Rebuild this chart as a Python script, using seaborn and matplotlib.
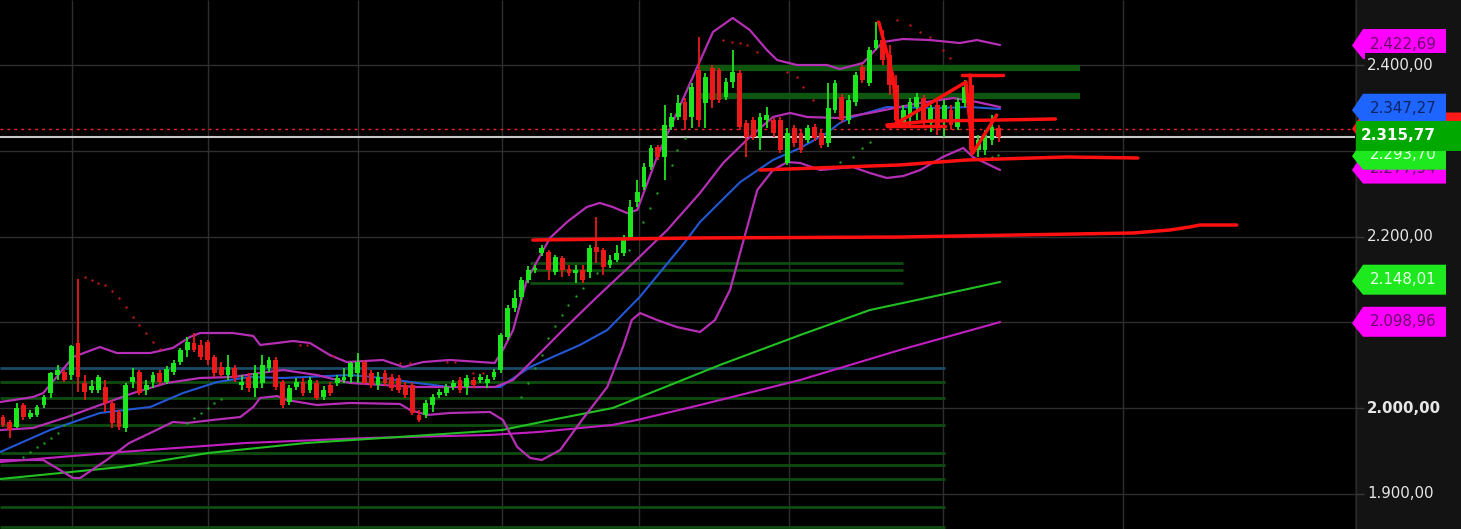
import numpy as np
import pandas as pd
import seaborn as sns
import matplotlib.pyplot as plt
from matplotlib.patches import Polygon, Rectangle

# candles (index 0..146), prices
opens = [
    1989.7, 1983.9, 1978.1, 2003.7, 1989.7, 1992.1, 2003.7, 2017.7, 2038.7, 2042.2,
    2038.7, 2076.0, 2029.4, 2021.2, 2021.2, 2024.7, 2006.1, 1995.6, 1976.9, 2030.5,
    2042.2, 2021.2, 2030.5, 2041.0, 2030.5, 2042.2, 2053.8, 2067.8, 2076.0, 2073.7,
    2077.2, 2059.7, 2048.0, 2038.7, 2046.9, 2027.0, 2036.4, 2023.5, 2029.4, 2046.9,
    2056.2, 2030.5, 2007.2, 2024.7, 2030.5, 2021.2, 2029.4, 2013.0, 2027.0, 2029.4,
    2032.9, 2036.4, 2041.0, 2053.8, 2041.0, 2027.0, 2041.0, 2036.4, 2035.2, 2027.0,
    2027.0, 1992.1, 1992.1, 2003.7, 2015.3, 2017.7, 2024.7, 2032.9, 2024.7, 2032.9,
    2032.9, 2029.4, 2036.4, 2044.5, 2083.0, 2116.8, 2129.6, 2149.4, 2161.1, 2180.9,
    2182.1, 2158.7, 2175.1, 2162.2, 2157.6, 2161.1, 2158.7, 2187.9, 2184.4, 2166.9,
    2172.7, 2180.9, 2199.5, 2240.3, 2257.8, 2281.1, 2304.4, 2292.8, 2327.7, 2339.4,
    2356.9, 2339.4, 2394.2, 2355.7, 2396.5, 2394.2, 2362.7, 2380.2, 2390.7, 2332.4,
    2335.9, 2316.1, 2335.9, 2335.9, 2335.9, 2285.8, 2326.6, 2320.7, 2312.6, 2327.7,
    2320.7, 2309.1, 2347.5, 2362.7, 2335.9, 2356.9, 2397.7, 2379.0, 2419.8, 2429.1,
    2411.7, 2376.7, 2332.4, 2339.4, 2351.0, 2361.5, 2332.4, 2353.4, 2333.6, 2347.5,
    2327.7, 2355.7, 2376.7, 2300.9, 2300.9, 2312.6, 2326.6]
closes = [
    1980.4, 1974.6, 2000.2, 1989.7, 1994.4, 2001.4, 2013.0, 2041.0, 2044.5, 2032.9,
    2072.5, 2036.4, 2018.9, 2025.9, 2036.4, 2006.1, 1982.8, 1978.1, 2027.0, 2036.4,
    2017.7, 2027.0, 2038.7, 2030.5, 2045.7, 2052.7, 2067.8, 2077.2, 2067.8, 2059.7,
    2056.2, 2041.0, 2038.7, 2048.0, 2035.2, 2030.5, 2023.5, 2041.0, 2050.3, 2056.2,
    2024.7, 2003.7, 2023.5, 2030.5, 2017.7, 2032.9, 2011.9, 2021.2, 2017.7, 2035.2,
    2036.4, 2052.7, 2053.8, 2029.4, 2027.0, 2036.4, 2029.4, 2023.5, 2021.2, 2015.3,
    1994.4, 1986.3, 2006.1, 2013.0, 2018.9, 2024.7, 2029.4, 2021.2, 2035.2, 2027.0,
    2036.4, 2034.0, 2042.2, 2085.3, 2116.8, 2128.4, 2149.4, 2161.1, 2163.4, 2186.7,
    2161.1, 2176.2, 2161.1, 2157.6, 2161.1, 2149.4, 2186.7, 2182.1, 2164.6, 2172.7,
    2180.9, 2196.0, 2234.5, 2251.9, 2281.1, 2303.3, 2292.8, 2330.1, 2339.4, 2355.7,
    2335.9, 2374.4, 2335.9, 2386.0, 2359.2, 2359.2, 2380.2, 2391.8, 2327.7, 2316.1,
    2316.1, 2339.4, 2341.7, 2320.7, 2300.9, 2320.7, 2309.1, 2300.9, 2326.6, 2314.9,
    2306.8, 2349.9, 2379.0, 2335.9, 2359.2, 2388.3, 2382.5, 2417.5, 2429.1, 2405.8,
    2376.7, 2335.9, 2347.5, 2356.9, 2362.7, 2335.9, 2349.9, 2330.1, 2353.4, 2330.1,
    2356.9, 2374.4, 2300.9, 2312.6, 2318.4, 2327.7, 2315.8]
highs = [
    1992.1, 1986.3, 2006.1, 2006.1, 1997.9, 2003.7, 2015.3, 2042.2, 2050.3, 2044.5,
    2073.7, 2150.6, 2038.7, 2032.9, 2038.7, 2032.9, 2009.6, 1997.9, 2029.4, 2046.9,
    2044.5, 2032.9, 2042.2, 2044.5, 2049.2, 2056.2, 2070.2, 2083.0, 2087.6, 2079.5,
    2079.5, 2062.0, 2053.8, 2062.0, 2050.3, 2038.7, 2041.0, 2050.3, 2062.0, 2059.7,
    2059.7, 2032.9, 2027.0, 2035.2, 2035.2, 2036.4, 2032.9, 2025.9, 2030.5, 2038.7,
    2046.9, 2053.8, 2064.3, 2056.2, 2044.5, 2042.2, 2044.5, 2039.9, 2038.7, 2030.5,
    2030.5, 1997.9, 2009.6, 2016.5, 2022.4, 2028.2, 2032.9, 2036.4, 2038.7, 2036.4,
    2039.9, 2038.7, 2045.7, 2087.6, 2120.3, 2137.8, 2152.9, 2165.7, 2166.9, 2190.2,
    2184.4, 2178.6, 2177.4, 2166.9, 2166.9, 2166.9, 2190.2, 2222.8, 2186.7, 2178.6,
    2190.2, 2201.9, 2242.7, 2265.9, 2285.8, 2306.8, 2306.8, 2353.4, 2344.1, 2365.0,
    2361.5, 2379.0, 2432.6, 2390.7, 2400.0, 2396.5, 2384.8, 2417.5, 2394.2, 2335.9,
    2339.4, 2344.1, 2351.0, 2338.2, 2339.4, 2326.6, 2330.1, 2324.2, 2330.1, 2331.2,
    2324.2, 2379.0, 2382.5, 2366.2, 2365.0, 2391.8, 2401.2, 2421.0, 2450.1, 2440.8,
    2423.3, 2388.3, 2353.4, 2361.5, 2367.4, 2365.0, 2353.4, 2359.2, 2359.2, 2353.4,
    2361.5, 2382.5, 2382.5, 2318.4, 2324.2, 2341.7, 2330.1]
lows = [
    1978.1, 1965.3, 1976.9, 1986.3, 1987.4, 1989.7, 2000.2, 2011.9, 2032.9, 2030.5,
    2032.9, 2018.9, 2009.6, 2017.7, 2017.7, 1995.6, 1976.9, 1974.6, 1972.3, 2023.5,
    2015.3, 2015.3, 2023.5, 2027.0, 2028.2, 2038.7, 2050.3, 2059.7, 2065.5, 2056.2,
    2050.3, 2036.4, 2036.4, 2032.9, 2030.5, 2021.2, 2018.9, 2013.0, 2023.5, 2042.2,
    2021.2, 2000.2, 2003.7, 2021.2, 2014.2, 2017.7, 2009.6, 2009.6, 2014.2, 2025.9,
    2029.4, 2029.4, 2029.4, 2027.0, 2023.5, 2021.2, 2025.9, 2020.0, 2017.7, 2011.9,
    1992.1, 1983.9, 1988.6, 1995.6, 2011.9, 2014.2, 2021.2, 2017.7, 2015.3, 2023.5,
    2029.4, 2023.5, 2032.9, 2041.0, 2079.5, 2112.1, 2126.1, 2145.9, 2157.6, 2177.4,
    2149.4, 2155.3, 2152.9, 2154.1, 2145.9, 2145.9, 2151.8, 2169.2, 2155.3, 2163.4,
    2170.4, 2177.4, 2196.0, 2234.5, 2254.3, 2277.6, 2289.3, 2265.9, 2324.2, 2335.9,
    2324.2, 2326.6, 2327.7, 2326.6, 2349.9, 2355.7, 2359.2, 2373.2, 2324.2, 2292.8,
    2312.6, 2300.9, 2326.6, 2316.1, 2297.4, 2283.5, 2304.4, 2297.4, 2309.1, 2311.4,
    2303.3, 2304.4, 2344.1, 2332.4, 2331.2, 2352.2, 2379.0, 2375.5, 2417.5, 2400.0,
    2365.0, 2327.7, 2327.7, 2330.1, 2335.9, 2327.7, 2321.9, 2318.4, 2316.1, 2324.2,
    2324.2, 2351.0, 2295.1, 2292.8, 2295.1, 2306.8, 2310.3]

# bollinger bands and moving averages (vertices: bar index, price)
bb_up_x = [-0.4, 4.4, 5.9, 10.3, 14.2, 16.7, 21.6, 24.9, 27.4, 28.9, 33.7, 36.7, 37.7, 40.2, 42.5,
           45.0, 47.9, 50.4, 55.7, 58.7, 61.6, 65.5, 72.1, 73.3, 74.8, 76.8, 80.2, 82.7, 85.6, 87.5,
           89.4, 91.5, 93.0, 95.9, 98.8, 101.8, 104.1, 107.0, 109.5, 112.0, 113.5, 116.4, 120.8,
           122.7, 126.1, 129.0, 132.0, 135.9, 140.3, 142.8, 146.2]
bb_up_y = [2007.2, 2013.0, 2017.7, 2059.7, 2071.3, 2064.3, 2064.3, 2070.2, 2083.0, 2087.6, 2087.6,
           2084.2, 2073.7, 2076.0, 2078.3, 2076.0, 2062.0, 2053.8, 2056.2, 2048.0, 2053.8, 2056.2,
           2052.7, 2067.8, 2091.1, 2149.4, 2198.4, 2217.0, 2234.5, 2239.2, 2234.5, 2227.5, 2231.0,
           2292.8, 2344.1, 2397.7, 2438.5, 2454.8, 2440.8, 2417.5, 2405.8, 2400.0, 2400.0, 2395.3,
           2402.3, 2426.8, 2430.3, 2429.1, 2425.6, 2429.1, 2423.3]
bb_mid_x = [-0.4, 4.4, 9.4, 14.2, 19.1, 24.0, 28.9, 33.7, 37.7, 41.1, 46.0, 49.0, 50.9, 55.7, 60.7,
            72.1, 74.8, 77.3, 82.1, 87.1, 92.4, 97.4, 102.2, 105.6, 109.5, 112.9, 115.4, 117.9,
            122.7, 127.1, 134.4, 139.3, 142.8, 146.2]
bb_mid_y = [1974.6, 1976.9, 1989.7, 2003.7, 2017.7, 2029.4, 2035.2, 2036.4, 2041.0, 2044.5, 2038.7,
            2032.9, 2029.4, 2027.0, 2024.7, 2024.7, 2032.9, 2052.7, 2091.1, 2129.6, 2169.2, 2207.7,
            2250.8, 2285.8, 2316.1, 2339.4, 2344.1, 2339.4, 2338.2, 2344.1, 2355.7, 2361.5, 2356.9,
            2351.0]
bb_lo_x = [-0.4, 5.9, 10.3, 11.3, 15.2, 18.5, 21.6, 24.9, 27.0, 30.8, 34.8, 36.7, 37.7, 40.2, 41.6,
           46.0, 50.9, 58.2, 59.7, 62.2, 65.5, 71.4, 73.3, 75.4, 77.3, 79.0, 81.7, 84.9, 88.6, 90.9,
           92.2, 93.4, 95.9, 98.8, 102.2, 104.4, 106.6, 108.8, 110.6, 112.9, 115.0, 116.9, 119.8,
           124.6, 127.1, 129.6, 132.0, 134.5, 137.8, 140.8, 142.2, 146.2]
bb_lo_y = [1939.6, 1939.6, 1918.6, 1918.6, 1939.6, 1959.4, 1971.1, 1983.9, 1982.8, 1986.3, 1989.7,
           2001.4, 2011.9, 2014.2, 2009.6, 2003.7, 2006.1, 2004.9, 1997.9, 1992.1, 1994.4, 1995.6,
           1986.3, 1954.8, 1942.0, 1939.6, 1951.3, 1986.3, 2024.7, 2071.3, 2102.8, 2110.9, 2102.8,
           2094.6, 2088.8, 2102.8, 2137.8, 2201.9, 2254.3, 2277.6, 2286.9, 2285.8, 2277.6, 2281.1,
           2274.1, 2268.3, 2270.6, 2277.6, 2292.8, 2303.3, 2292.8, 2277.6]
ema_x = [-0.4, 6.9, 14.2, 21.6, 26.4, 31.4, 36.2, 41.1, 50.9, 55.7, 60.7, 65.5, 72.9, 77.3, 80.6,
         84.6, 88.6, 93.4, 100.0, 102.2, 104.7, 108.1, 112.9, 116.9, 120.8, 122.7, 124.6, 129.6,
         137.0, 141.8, 146.2]
ema_y = [1949.0, 1974.6, 1994.4, 2001.4, 2017.7, 2030.5, 2036.4, 2035.2, 2038.7, 2035.2, 2029.4,
         2024.7, 2024.7, 2048.0, 2059.7, 2073.7, 2091.1, 2130.0, 2193.7, 2217.0, 2236.8, 2263.6,
         2289.3, 2303.3, 2320.7, 2332.4, 2339.4, 2351.0, 2349.9, 2351.0, 2348.7]
ma_g_x = [-0.4, 17.4, 30.1, 44.4, 62.5, 73.2, 80.4, 89.4, 94.9, 105.1, 116.9, 127.1, 137.4, 146.2]
ma_g_y = [1917.5, 1931.5, 1947.8, 1959.4, 1968.8, 1974.6, 1986.3, 2000.2, 2017.7, 2050.3, 2085.3,
          2114.4, 2131.9, 2147.1]
ma_m_x = [-0.4, 17.4, 35.5, 53.4, 71.4, 78.6, 89.3, 93.0, 102.2, 116.9, 131.5, 146.2]
ma_m_y = [1937.3, 1949.0, 1959.4, 1965.3, 1968.8, 1972.3, 1980.4, 1986.3, 2003.7, 2032.9, 2067.8,
          2100.4]

# hand drawn red lines
red_lines = [
    ([77.7, 102.2, 131.5, 165.7, 171.1, 174.0, 175.5, 180.9],
     [2196.0, 2198.4, 2199.5, 2204.2, 2207.7, 2211.2, 2213.5, 2213.5]),
    ([111.0, 131.5, 141.3, 156.0, 166.4], [2277.6, 2283.5, 2289.3, 2292.8, 2291.6]),
    ([130.1, 141.2, 142.2, 145.7], [2327.7, 2380.2, 2297.4, 2341.7]),
    ([140.6, 146.6], [2388.3, 2388.3]),
    ([141.8, 142.2], [2388.3, 2297.4]),
    ([129.6, 135.9, 146.2, 154.3], [2330.1, 2334.7, 2335.9, 2337.1]),
    ([129.6, 138.1], [2328.9, 2328.9]),
    ([128.4, 129.5, 130.5, 131.2], [2450.1, 2417.5, 2386.0, 2330.1]),
]

# horizontal support / resistance levels
lvl_low = [2046.9, 2030.5, 2011.9, 1980.4, 1947.8, 1933.8, 1917.5, 1884.8, 1861.5]
lvl_mid = [2169.2, 2161.1, 2145.9]
lvl_top = [2396.5, 2363.9]

# parabolic sar dots
sar_red_x = [12, 13, 14, 15, 16, 17, 18, 19, 20, 21, 22, 23, 43.5, 44.6, 48.4, 58.2, 59.7, 65.1, 66.3,
             68.9, 70.4, 105.6, 106.9, 108.1, 109.1, 110.6, 115.0, 116.4, 117.3, 118.8,
             131.1, 133.0, 134.5, 135.9, 137.8, 138.8]
sar_red_y = [2152.9, 2149.4, 2145.9, 2143.6, 2136.6, 2128.4, 2117.9, 2106.3, 2097.0, 2087.6, 2077.2,
             2069.0, 2073.7, 2073.7, 2060.8, 2052.7, 2052.7, 2053.8, 2053.8, 2041.0, 2041.0,
             2429.1, 2426.8, 2425.6, 2423.3, 2415.2, 2391.8, 2386.0, 2374.4, 2359.2,
             2452.5, 2446.6, 2438.5, 2432.6, 2417.5, 2408.2]
sar_grn_x = [3, 4, 5, 6, 7, 8, 9, 10, 27, 28, 29, 30, 31, 32, 76.0, 77.0, 78.0, 79.0, 79.9, 80.9,
             81.9, 82.8, 84.0, 85.0, 87.1, 91.8, 93.8, 94.9, 95.9, 98.1, 98.8, 100.0,
             122.7, 124.6, 126.0, 127.1, 144.0, 145.0, 145.9]
sar_grn_y = [1943.1, 1949.0, 1954.8, 1959.4, 1965.3, 1971.1, 1980.4, 1992.1, 1982.8, 1988.6, 1994.4,
             2000.2, 2006.1, 2010.7, 2013.0, 2029.4, 2046.9, 2062.0, 2081.8, 2095.8, 2108.6, 2120.3,
             2130.8, 2140.1, 2157.6, 2184.4, 2217.0, 2233.3, 2250.8, 2283.5, 2300.9, 2314.9,
             2286.9, 2292.8, 2303.3, 2310.3, 2291.6, 2292.8, 2295.1]

grid_levels = [2400, 2300, 2200, 2100, 2000, 1900]
axis_labels = ['2.400,00', '2.300,00', '2.200,00', '2.100,00', '2.000,00', '1.900,00']
grid_x = [10.1, 30.1, 52.1, 73.2, 93.3, 115.2, 137.8, 164.2]

last_price = 2315.77
ref_price = 2325.4
# tag value, text, face colour, text colour
tags = [
    (2277.54, '2.277,54', '#ff00ff', '#6a0a6a'),
    (2293.70, '2.293,70', '#1ee81e', '#e8ffe8'),
    (ref_price, '', '#ff1a1a', '#ffffff'),
    (2347.27, '2.347,27', '#1e64ff', '#0a2466'),
    (2422.69, '2.422,69', '#ff00ff', '#6a0a6a'),
    (2148.01, '2.148,01', '#1ee81e', '#e8ffe8'),
    (2098.96, '2.098,96', '#ff00ff', '#6a0a6a'),
]

GREEN = '#1ee61e'
RED = '#ea1a1a'
W, H, PANEL = 1461, 529, 1355
PPX = 1.1655          # price units per pixel
y_lo, y_hi = 1859.2, 2475.76

sns.set_style('dark')
plt.rcParams['font.family'] = ['DejaVu Sans']

fig = plt.figure(figsize=(W / 100, H / 100), dpi=100, facecolor='black')
ax = fig.add_axes([0, 0, PANEL / W, 1])
ax.set_facecolor('black')
ax.set_xlim(-0.44, 198.24)
ax.set_ylim(y_lo, y_hi)
ax.set_xticks([])
ax.set_yticks([])
for s in ax.spines.values():
    s.set_visible(False)

ax.hlines(grid_levels, -1, 200, color='#2e2e2e', lw=1, zorder=0)
ax.vlines(grid_x, y_lo, y_hi, color='#2e2e2e', lw=1, zorder=0)

# levels
for i, lv in enumerate(lvl_low):
    ax.hlines(lv, -0.44, 138.1, color='#1b4a66' if i == 0 else '#0f4d0f', lw=2, zorder=1)
ax.hlines(lvl_mid, 77.3, 132.0, color='#0f4d0f', lw=2, zorder=1)
ax.hlines(lvl_top, 102.2, 157.9, color='#0d560d', lw=4.5, zorder=1)

ax.axhline(ref_price, color='#ff2020', lw=1, ls=(0, (2, 3)), zorder=2)
ax.axhline(last_price, color='#c8c8c8', lw=1.5, zorder=2)

# indicator lines
sns.lineplot(x=ma_m_x, y=ma_m_y, ax=ax, color='#c21fc2', lw=1.5, sort=False, estimator=None, zorder=3)
sns.lineplot(x=ma_g_x, y=ma_g_y, ax=ax, color='#22c022', lw=1.5, sort=False, estimator=None, zorder=3)
sns.lineplot(x=ema_x, y=ema_y, ax=ax, color='#2457d6', lw=1.5, sort=False, estimator=None, zorder=3)
for bx, by in [(bb_up_x, bb_up_y), (bb_mid_x, bb_mid_y), (bb_lo_x, bb_lo_y)]:
    sns.lineplot(x=bx, y=by, ax=ax, color='#b52fb5', lw=1.6, sort=False, estimator=None, zorder=3)

sns.scatterplot(x=sar_red_x, y=sar_red_y, ax=ax, color='#c01818', s=3, linewidth=0, zorder=3)
sns.scatterplot(x=sar_grn_x, y=sar_grn_y, ax=ax, color='#1aa01a', s=3, linewidth=0, zorder=3)

# candles
df = pd.DataFrame({'o': opens, 'h': highs, 'l': lows, 'c': closes})
df['i'] = np.arange(len(df))
col = np.where(df['c'] >= df['o'], GREEN, RED)
ax.vlines(df['i'], df['l'], df['h'], colors=col, lw=1.3, zorder=4)
body = (df['c'] - df['o']).abs().clip(lower=1.5)
ax.bar(df['i'], body, bottom=df[['o', 'c']].min(axis=1), width=0.7, color=col, linewidth=0, zorder=5)

for rx, ry in red_lines:
    ax.plot(rx, ry, color='#ff1010', lw=2.5, solid_capstyle='round', zorder=6)

# right price panel
ax2 = fig.add_axes([PANEL / W, 0, (W - PANEL) / W, 1])
ax2.set_facecolor('#131313')
ax2.set_xlim(0, W - PANEL)
ax2.set_ylim(y_lo, y_hi)
ax2.set_xticks([])
ax2.set_yticks([])
for s in ax2.spines.values():
    s.set_visible(False)
ax2.axvline(1, color='#2c2c2c', lw=1)
ax2.hlines(grid_levels, 0, 9, color='#3a3a3a', lw=1)

for lv, lab in zip(grid_levels, axis_labels):
    if lab in ('2.300,00', '2.100,00'):
        continue
    ax2.add_patch(Rectangle((10, lv - 12 * PPX), 96, 24 * PPX, facecolor='#131313',
                            edgecolor='none', zorder=8))
    ax2.text(12, lv, lab, color='#e6e6e6', fontsize=10.8, va='center', ha='left',
             fontweight='bold' if lab == '2.000,00' else 'normal', zorder=9)

def tag(price, text, face, tc, z, half=15, x1=91):
    h = half * PPX
    p = price + 1.5 * PPX
    pts = [(-3, price), (8, p + h), (x1, p + h), (x1, p - h), (8, p - h)]
    ax2.add_patch(Polygon(pts, closed=True, facecolor=face, edgecolor='none', clip_on=False, zorder=z))
    if text:
        ax2.text(15, p, text, color=tc, fontsize=10.8, va='center', ha='left', zorder=z)

for k, (val, txt, fc, tc) in enumerate(tags):
    x1 = 106 if txt == '' else 91
    tag(val, txt, fc, tc, 2 + k, x1=x1)

# top label box on the 2.400 line hides the lower part of the 2.422,69 tag
ax2.add_patch(Rectangle((10, 2400 - 12 * PPX), 96, 24 * PPX, facecolor='#131313',
                        edgecolor='none', zorder=12))
ax2.text(12, 2400, '2.400,00', color='#e6e6e6', fontsize=10.8, va='center', ha='left', zorder=13)

# last price tag
h = 15 * PPX
p = last_price + 1.5 * PPX
ax2.add_patch(Polygon([(1, p + h), (106, p + h), (106, p - h), (1, p - h)], closed=True,
                      facecolor='#00a800', edgecolor='none', zorder=14))
ax2.text(6, p, '2.315,77', color='white', fontsize=11, fontweight='bold', va='center', ha='left',
         zorder=15)

fig.savefig('out.png', dpi=100, facecolor='black')
